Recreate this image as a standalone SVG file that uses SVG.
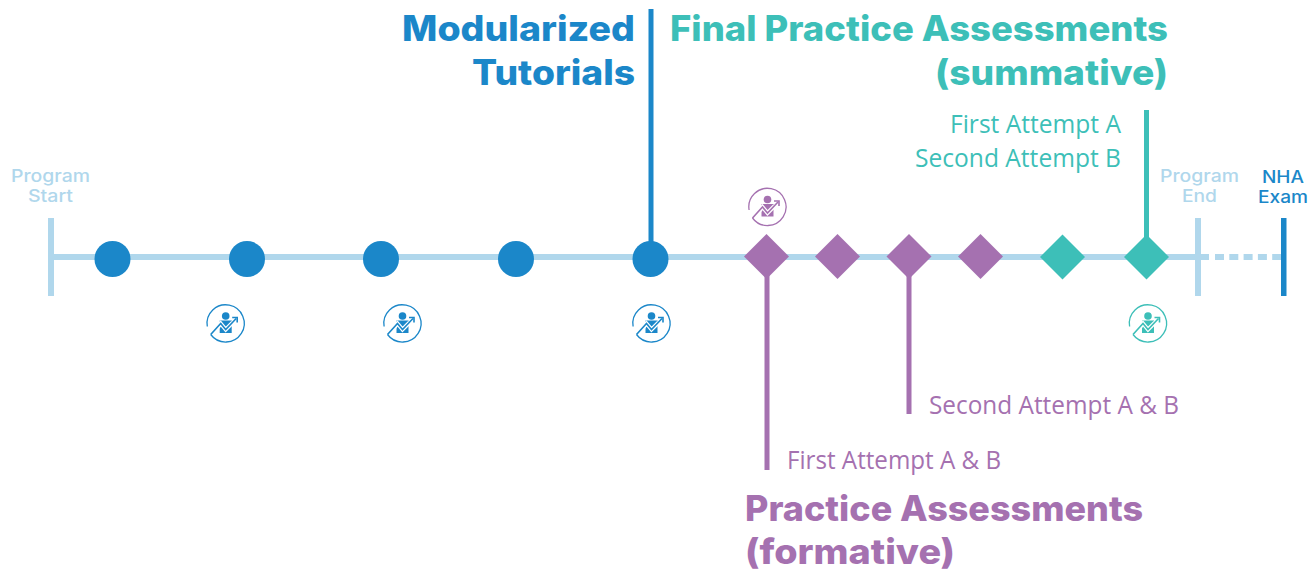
<svg xmlns="http://www.w3.org/2000/svg" width="1316" height="571" viewBox="0 0 1316 571">
<style>
.h{font-family:"Inter","Liberation Sans",sans-serif;font-weight:800;font-size:35px}
.s{font-family:"Open Sans","Noto Sans",sans-serif;font-size:26px}
.m{font-family:"Inter","Liberation Sans",sans-serif;font-weight:500;font-size:17px}
.lb{fill:#b0d7ec}.b{fill:#1b87c9}.p{fill:#a571b0}.t{fill:#3dbfb8}
.i{color:#1b87c9}
</style>
<defs>
<g id="icon">
<path d="M-18.400 3A18.600 18.600 0 1 1 -15 11" fill="none" stroke="currentColor" stroke-width="1.300"/>
<circle cx="0" cy="-7.500" r="3.800" fill="currentColor"/>
<path d="M-6 -3H6V9.500H-6Z" fill="currentColor"/>
<path d="M-8 4L-5 0L0 6L7 -1" fill="none" stroke="#fff" stroke-width="4"/>
<path d="M-15 11L-5 0L0 6L10.500 -5" fill="none" stroke="currentColor" stroke-width="1.600"/>
<path d="M6.500 -6H11.500V-1" fill="none" stroke="currentColor" stroke-width="1.600"/>
</g>
</defs>
<g id="connectors">
<path d="M52 257H1209" stroke="#b0d7ec" stroke-width="6" fill="none"/>
<path d="M1215 257H1281" stroke="#b0d7ec" stroke-width="6" stroke-dasharray="9 5.300" fill="none"/>
<path d="M651 9V257" stroke="#1b87c9" stroke-width="5" fill="none"/>
<path d="M767 257V470" stroke="#a571b0" stroke-width="5" fill="none"/>
<path d="M909 257V414" stroke="#a571b0" stroke-width="5" fill="none"/>
<path d="M1146.500 110V257" stroke="#3dbfb8" stroke-width="5" fill="none"/>
</g>
<g id="program-start"><rect x="48" y="218" width="6" height="78" class="lb"/>
<text class="m lb" x="11" y="182" textLength="79" lengthAdjust="spacingAndGlyphs">Program</text><text class="m lb" x="28" y="202" textLength="45" lengthAdjust="spacingAndGlyphs">Start</text></g>
<g id="program-end"><rect x="1195" y="218" width="6" height="78" class="lb"/>
<text class="m lb" x="1160" y="182" textLength="79" lengthAdjust="spacingAndGlyphs">Program</text><text class="m lb" x="1182" y="202" textLength="35" lengthAdjust="spacingAndGlyphs">End</text></g>
<g id="nha-exam"><rect x="1281" y="218" width="5.500" height="78" class="b"/>
<text class="m b" x="1262" y="183" textLength="42" lengthAdjust="spacingAndGlyphs">NHA</text><text class="m b" x="1258" y="203" textLength="50" lengthAdjust="spacingAndGlyphs">Exam</text></g>
<g id="tutorial-1"><circle cx="112.500" cy="259" r="18" class="b"/></g>
<g id="tutorial-2"><circle cx="247" cy="259" r="18" class="b"/></g>
<g id="tutorial-3"><circle cx="381" cy="259" r="18" class="b"/></g>
<g id="tutorial-4"><circle cx="516" cy="259" r="18" class="b"/></g>
<g id="tutorial-5"><circle cx="650.500" cy="259" r="18" class="b"/></g>
<g id="practice-1"><path d="M766.500 234L789 256.500L766.500 279L744 256.500Z" class="p"/></g>
<g id="practice-2"><path d="M837.500 234L860 256.500L837.500 279L815 256.500Z" class="p"/></g>
<g id="practice-3"><path d="M909 234L931.500 256.500L909 279L886.500 256.500Z" class="p"/></g>
<g id="practice-4"><path d="M980.500 234L1003 256.500L980.500 279L958 256.500Z" class="p"/></g>
<g id="final-1"><path d="M1062.500 234.500L1085 257L1062.500 279.500L1040 257Z" class="t"/></g>
<g id="final-2"><path d="M1146.500 234.500L1169 257L1146.500 279.500L1124 257Z" class="t"/></g>
<g id="icon-1" class="i"><use href="#icon" x="225.700" y="323.500"/></g>
<g id="icon-2" class="i"><use href="#icon" x="402.500" y="323.500"/></g>
<g id="icon-3" class="i"><use href="#icon" x="651.500" y="323.500"/></g>
<g id="icon-4" style="color:#a571b0"><use href="#icon" x="767.500" y="207"/></g>
<g id="icon-5" style="color:#3dbfb8"><use href="#icon" x="1148" y="323.500"/></g>
<g id="modularized-label"><text class="h b" x="402" y="41" textLength="233" lengthAdjust="spacingAndGlyphs">Modularized</text><text class="h b" x="472" y="85" textLength="163" lengthAdjust="spacingAndGlyphs">Tutorials</text></g>
<g id="final-label"><text class="h t" x="670" y="41" textLength="498" lengthAdjust="spacingAndGlyphs">Final Practice Assessments</text><text class="h t" x="935" y="85" textLength="233" lengthAdjust="spacingAndGlyphs">(summative)</text>
<text class="s t" x="950" y="133" textLength="171" lengthAdjust="spacingAndGlyphs">First Attempt A</text><text class="s t" x="915" y="167" textLength="206" lengthAdjust="spacingAndGlyphs">Second Attempt B</text></g>
<g id="practice-label"><text class="h p" x="745" y="521" textLength="398" lengthAdjust="spacingAndGlyphs">Practice Assessments</text><text class="h p" x="745" y="564" textLength="210" lengthAdjust="spacingAndGlyphs">(formative)</text>
<text class="s p" x="787" y="469" textLength="214" lengthAdjust="spacingAndGlyphs">First Attempt A &amp; B</text><text class="s p" x="929" y="414" textLength="250" lengthAdjust="spacingAndGlyphs">Second Attempt A &amp; B</text></g>
</svg>
